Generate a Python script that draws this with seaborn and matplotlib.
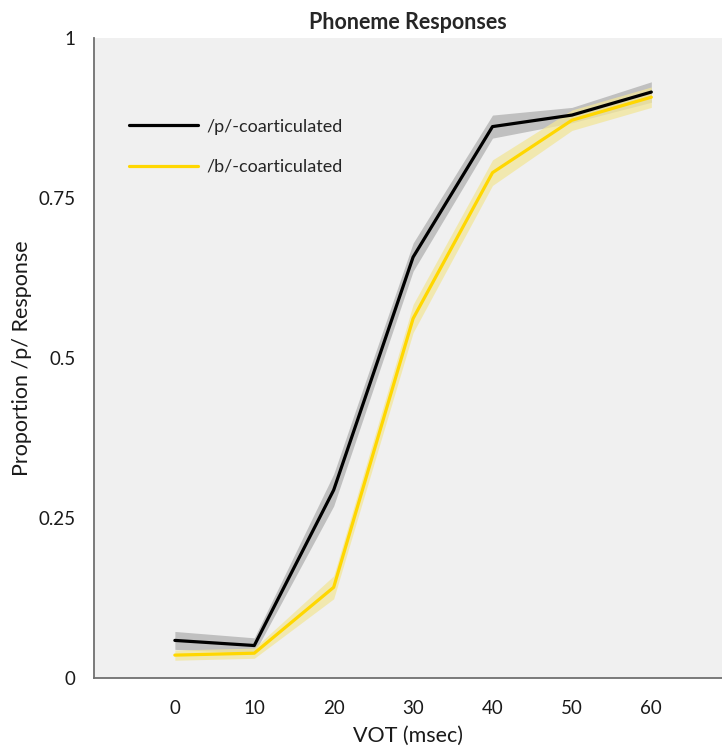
import matplotlib
matplotlib.use("Agg")
import matplotlib.pyplot as plt
import seaborn as sns
import pandas as pd
import numpy as np

vot = [0, 10, 20, 30, 40, 50, 60]
p_mean = [0.059, 0.051, 0.294, 0.658, 0.862, 0.880, 0.916]
p_err = [0.014, 0.012, 0.025, 0.022, 0.018, 0.012, 0.016]
b_mean = [0.036, 0.039, 0.142, 0.562, 0.790, 0.872, 0.908]
b_err = [0.008, 0.008, 0.018, 0.022, 0.020, 0.016, 0.016]
series = ["/p/-coarticulated", "/b/-coarticulated"]
colors = ["#000000", "#FFD700"]
band_colors = ["#b0b0b0", "#f2e69a"]
yticks = [0, 0.25, 0.5, 0.75, 1]
yticklabels = ["0", "0.25", "0.5", "0.75", "1"]

sns.set_style("white")
plt.rcParams["font.family"] = ["Lato", "DejaVu Sans"]

df = pd.DataFrame({
    "VOT": vot * 2,
    "prop": p_mean + b_mean,
    "cond": [series[0]] * len(vot) + [series[1]] * len(vot),
})

fig = plt.figure(figsize=(7.22, 7.51), dpi=100)
ax = fig.add_axes([0.130, 0.097, 0.870, 0.852])
ax.set_facecolor("#f0f0f0")

for mean, err, bc in [(p_mean, p_err, band_colors[0]), (b_mean, b_err, band_colors[1])]:
    m = np.array(mean); e = np.array(err)
    ax.fill_between(vot, m - e, m + e, color=bc, alpha=0.75, linewidth=0)

sns.lineplot(data=df, x="VOT", y="prop", hue="cond", palette=colors,
             hue_order=series, linewidth=2.3, ax=ax, legend=True)

ax.set_xlim(-10.2, 68.9)
ax.set_ylim(0, 1)
ax.set_xticks(vot)
ax.set_xticklabels([str(v) for v in vot])
ax.set_yticks(yticks)
ax.set_yticklabels(yticklabels)
ax.tick_params(axis="both", direction="out", length=6, width=1.2, color="#808080",
               labelsize=13.5, labelcolor="#1a1a1a")
ax.tick_params(axis="x", pad=10)
ax.tick_params(axis="y", pad=7)
for s in ["top", "right"]:
    ax.spines[s].set_visible(False)
for s in ["left", "bottom"]:
    ax.spines[s].set_color("#707070")
    ax.spines[s].set_linewidth(1.3)

ax.set_xlabel("VOT (msec)", fontsize=15.5, color="#1a1a1a", labelpad=6)
ax.set_ylabel("Proportion /p/ Response", fontsize=15.5, color="#1a1a1a")
ax.yaxis.set_label_coords(-0.098, 0.5)
ax.set_title("Phoneme Responses", fontsize=15.5, fontweight="bold", pad=7)

leg = ax.legend(loc="upper left", bbox_to_anchor=(0.03, 0.90), frameon=False,
                fontsize=13, handlelength=3.8, handletextpad=0.5, labelspacing=1.35)

fig.savefig("out.png", dpi=100)
